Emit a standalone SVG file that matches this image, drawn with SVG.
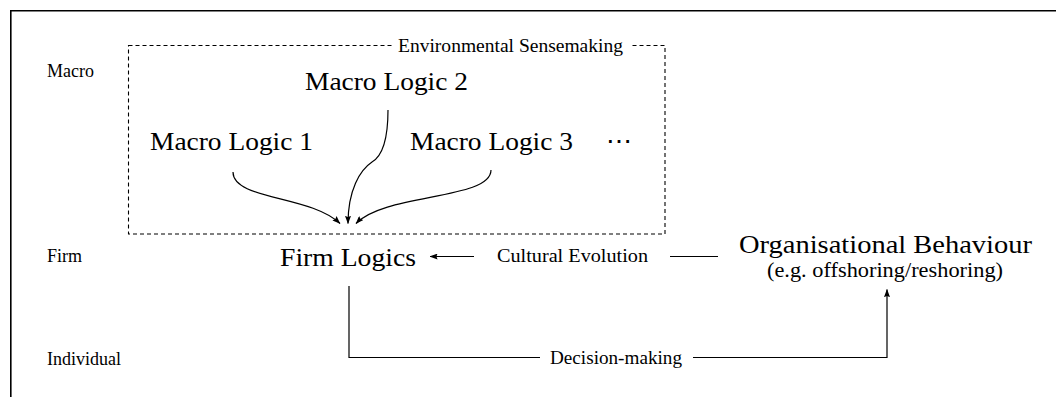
<svg xmlns="http://www.w3.org/2000/svg" width="1056" height="397" viewBox="0 0 1056 397">
  <style>
    .frame { fill: none; stroke: #000; stroke-width: 1.6; }
    .env { fill: none; stroke: #000; stroke-width: 1.1; stroke-dasharray: 4 3; }
    .conn { fill: none; stroke: #000; stroke-width: 1.2; }
    .arrow { marker-end: url(#tip); }
    text { font-family: "Liberation Serif", "DejaVu Serif", serif; fill: #000; }
    .big { font-size: 26px; }
    .mid { font-size: 21px; }
    .small { font-size: 18.5px; }
    .level { font-size: 18px; }
  </style>
  <defs>
    <marker id="tip" viewBox="0 0 8 6" refX="7.6" refY="3" markerWidth="8" markerHeight="6" markerUnits="userSpaceOnUse" orient="auto">
      <path d="M0,0 L8,3 L0,6 L1.2,3 Z" fill="#000"/>
    </marker>
  </defs>

  <rect width="1056" height="397" fill="#fff"/>

  <!-- outer frame: top and left edges -->
  <path class="frame" d="M10.8,397 V10.8 H1056"/>

  <!-- level labels -->
  <g id="level-macro"><text class="level" x="47" y="77">Macro</text></g>
  <g id="level-firm"><text class="level" x="47" y="262">Firm</text></g>
  <g id="level-individual"><text class="level" x="47" y="365">Individual</text></g>

  <!-- environmental sensemaking boundary -->
  <g id="environment">
    <rect class="env" x="128.5" y="45.5" width="536.5" height="188.5"/>
    <rect x="392" y="38" width="238" height="16" fill="#fff"/>
    <text class="small" x="398" y="52" textLength="225" lengthAdjust="spacingAndGlyphs">Environmental Sensemaking</text>
  </g>

  <g id="macro-logic-1"><text class="big" x="150" y="150" textLength="163" lengthAdjust="spacingAndGlyphs">Macro Logic 1</text></g>
  <g id="macro-logic-2"><text class="big" x="305" y="90" textLength="163" lengthAdjust="spacingAndGlyphs">Macro Logic 2</text></g>
  <g id="macro-logic-3"><text class="big" x="410" y="150" textLength="163" lengthAdjust="spacingAndGlyphs">Macro Logic 3</text></g>
  <g id="macro-more"><text class="big" x="619" y="150" text-anchor="middle">⋯</text></g>

  <g id="firm-logics"><text class="big" x="280" y="266" textLength="136" lengthAdjust="spacingAndGlyphs">Firm Logics</text></g>

  <g id="org-behaviour">
    <text class="big" x="739" y="253" textLength="293" lengthAdjust="spacingAndGlyphs">Organisational Behaviour</text>
    <text class="mid" x="767" y="277" textLength="236" lengthAdjust="spacingAndGlyphs">(e.g. offshoring/reshoring)</text>
  </g>

  <!-- connectors -->
  <g id="connectors">
    <path class="conn arrow" d="M233,172 C233,200 310,195 340,223.5"/>
    <path class="conn arrow" d="M388,110 C388,135 384,155 372,162 C360,170 348,190 348,223.5"/>
    <path class="conn arrow" d="M491,170 C491,200 385,193 356,223.5"/>

    <!-- cultural evolution: behaviour back to firm logics -->
    <path class="conn" d="M670,256.5 H718"/>
    <path class="conn arrow" d="M474,256.5 H430"/>
    <text class="small" x="497" y="262" textLength="151" lengthAdjust="spacingAndGlyphs">Cultural Evolution</text>

    <!-- decision-making: firm logics to behaviour -->
    <path class="conn" d="M349,286 V357.5 H540"/>
    <path class="conn arrow" d="M693,357.5 H887 V289.5"/>
    <text class="small" x="550" y="364" textLength="132" lengthAdjust="spacingAndGlyphs">Decision-making</text>
  </g>
</svg>
